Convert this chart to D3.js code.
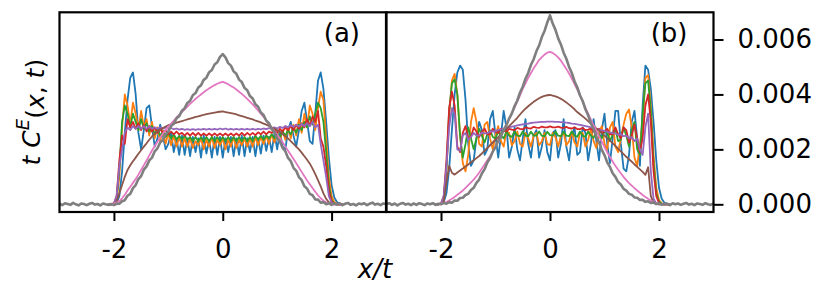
<!DOCTYPE html>
<html>
<head>
<meta charset="utf-8">
<script src="https://cdn.jsdelivr.net/npm/d3@7"></script>
<style>
  body { margin: 0; background: #fff; }
  svg { display: block; font-family: 'DejaVu Sans', sans-serif; }
</style>
</head>
<body>
<div class="chart"></div>
<script>
// all curve values are in units of 1e-4
const UNIT = 1e-4;

const xMid = [
  -2.10,-2.05,-2.00,-1.95,-1.90,-1.85,-1.80,-1.75,-1.70,-1.65,
  -1.60,-1.55,-1.50,-1.45,-1.40,-1.35,-1.30,-1.25,-1.20,-1.15,
  -1.10,-1.05,-1.00,-0.95,-0.90,-0.85,-0.80,-0.75,-0.70,-0.65,
  -0.60,-0.55,-0.50,-0.45,-0.40,-0.35,-0.30,-0.25,-0.20,-0.15,
  -0.10,-0.05,0.00,0.05,0.10,0.15,0.20,0.25,0.30,0.35,
  0.40,0.45,0.50,0.55,0.60,0.65,0.70,0.75,0.80,0.85,
  0.90,0.95,1.00,1.05,1.10,1.15,1.20,1.25,1.30,1.35,
  1.40,1.45,1.50,1.55,1.60,1.65,1.70,1.75,1.80,1.85,
  1.90,1.95,2.00,2.05,2.10,2.15,2.20
];

const xFull = [
  -3.00,-2.95,-2.90,-2.85,-2.80,-2.75,-2.70,-2.65,-2.60,-2.55,
  -2.50,-2.45,-2.40,-2.35,-2.30,-2.25,-2.20,-2.15,-2.10,-2.05,
  -2.00,-1.95,-1.90,-1.85,-1.80,-1.75,-1.70,-1.65,-1.60,-1.55,
  -1.50,-1.45,-1.40,-1.35,-1.30,-1.25,-1.20,-1.15,-1.10,-1.05,
  -1.00,-0.95,-0.90,-0.85,-0.80,-0.75,-0.70,-0.65,-0.60,-0.55,
  -0.50,-0.45,-0.40,-0.35,-0.30,-0.25,-0.20,-0.15,-0.10,-0.05,
  0.00,0.05,0.10,0.15,0.20,0.25,0.30,0.35,0.40,0.45,
  0.50,0.55,0.60,0.65,0.70,0.75,0.80,0.85,0.90,0.95,
  1.00,1.05,1.10,1.15,1.20,1.25,1.30,1.35,1.40,1.45,
  1.50,1.55,1.60,1.65,1.70,1.75,1.80,1.85,1.90,1.95,
  2.00,2.05,2.10,2.15,2.20,2.25,2.30,2.35,2.40,2.45,
  2.50,2.55,2.60,2.65,2.70,2.75,2.80,2.85,2.90,2.95,
  3.00
];

// ---- panel (a) ----
const blueA = [
  0, 0, 0.2, 0.5, 3, 12, 26, 38, 46, 48,
  40, 26, 20, 27, 35, 36, 28, 21, 24, 29,
  25, 20, 22, 26, 19, 24, 18, 25, 18, 24,
  17.5, 24.5, 19, 24, 17, 25, 18.5, 23.5, 17, 24.5,
  18, 24.5, 17, 24, 19, 24.5, 17.5, 24, 18, 25,
  17.5, 24, 19, 24.5, 17.5, 24, 18.5, 25, 19.5, 24.5,
  19, 26, 20, 26.5, 21, 20, 27, 30, 25, 21,
  27, 34, 37, 30, 23, 22, 33, 45, 48, 42,
  30, 17, 7, 2.5, 0.8, 0.2, 0
];
const orangeA = [
  0, 0, 0.3, 1.5, 10, 28, 40, 36, 29, 37,
  33, 27, 34, 28, 31, 25, 30, 24, 28, 23,
  27, 22, 26, 21.5, 25, 21, 24.5, 21, 24, 21,
  24, 20.5, 23, 21.5, 24, 20, 23.5, 21, 24.5, 20.5,
  23.5, 21.5, 24, 20, 23.5, 21, 24.5, 20.5, 23.5, 21.5,
  24, 21, 24, 21, 24.5, 21.5, 24.5, 22, 25, 22,
  25.5, 22.5, 26, 23, 27, 23.5, 28, 24, 29, 25,
  31, 26, 33, 28, 36, 33, 27, 35, 41, 38,
  24, 10, 3, 0.8, 0.2, 0, 0
];
const greenA = [
  0, 0, 0.3, 2, 13, 30, 36, 33, 28, 33,
  30, 27, 31, 27.5, 29.5, 26.5, 28.5, 25.5, 27.5, 25,
  26.5, 24.5, 26, 24, 25.5, 23.5, 25, 23.5, 25, 23.5,
  24.5, 23, 24.5, 23, 24.5, 23, 24.5, 23, 24.5, 23,
  24.5, 23, 24.5, 23, 24.5, 23, 24.5, 23, 24.5, 23,
  24.5, 23, 24.5, 23, 25, 23.5, 25, 23.5, 25, 24,
  25.5, 24, 26, 24.5, 26.5, 25, 27, 25.5, 28, 26,
  29, 27, 30, 28, 32, 29, 33, 37, 35, 30,
  19, 7, 1.5, 0.3, 0, 0, 0
];
const redA = [
  0, 0, 0.3, 3, 16, 25, 22, 31, 28, 30,
  27.5, 29.5, 27, 29, 26.5, 28.5, 26.5, 28, 26, 27.5,
  26, 27, 25.5, 26.5, 25.5, 26.5, 25.5, 26, 25, 26,
  25, 26, 25, 26, 25, 25.8, 25, 25.8, 25, 25.8,
  25, 25.8, 25, 25.8, 25, 25.8, 25, 25.8, 25, 26,
  25, 26, 25.2, 26, 25.2, 26.2, 25.5, 26.5, 25.5, 26.5,
  26, 27, 26, 27.5, 26.5, 28, 27, 28.5, 27, 29,
  27.5, 29.5, 28, 31, 28.5, 32, 30, 34, 24, 21,
  14, 5, 1, 0.2, 0, 0, 0
];
const purpleA = [
  0, 0, 0.3, 3, 14, 20, 26, 28, 27, 28.5,
  27.5, 28.5, 27.5, 28.5, 27.5, 28.5, 27.5, 28, 27.5, 28,
  27.5, 28, 27.5, 27.8, 27.3, 27.6, 27.2, 27.5, 27.1, 27.4,
  27.1, 27.4, 27.1, 27.4, 27.2, 27.5, 27.2, 27.5, 27.2, 27.5,
  27.2, 27.6, 27.3, 27.6, 27.2, 27.5, 27.2, 27.5, 27.2, 27.5,
  27.2, 27.5, 27.2, 27.5, 27.2, 27.5, 27.3, 27.6, 27.4, 27.7,
  27.5, 28, 27.6, 28.2, 27.8, 28.5, 28, 28.8, 28.2, 29,
  28.3, 29.3, 28.5, 29.5, 28.5, 30, 28, 29, 22, 16,
  10, 3, 0.6, 0.1, 0, 0, 0
];
const brownA = [
  0, 0, 0.2, 1, 4, 7, 10, 12.5, 14.2, 15.7,
  17, 18.4, 19.7, 21, 22.2, 23.5, 24.7, 25.8, 26.5, 27.2,
  27.8, 28.3, 28.8, 29.1, 29.4, 29.7, 30, 30.3, 30.6, 30.9,
  31.2, 31.5, 31.8, 32, 32.3, 32.6, 32.8, 33, 33.2, 33.4,
  33.6, 33.7, 33.8, 33.6, 33.4, 33.2, 33, 32.7, 32.4, 32.1,
  31.8, 31.5, 31.2, 30.9, 30.5, 30.2, 29.8, 29.4, 29, 28.5,
  28, 27.5, 27, 26.3, 25.6, 24.8, 24, 23, 22, 21,
  20, 18.8, 17.5, 16.2, 14.8, 13, 11, 8.8, 6.5, 4,
  2, 0.7, 0.2, 0, 0, 0, 0
];
const pinkA = [
  0, 0.1, 0.3, 0.6, 1.2, 2.2, 3.5, 5, 6.4, 7.8,
  9.2, 10.8, 12.5, 14.2, 16, 17.8, 19.6, 21.2, 22.8, 24.3,
  25.8, 27, 28.2, 29.4, 30.5, 31.6, 32.6, 33.6, 34.6, 35.6,
  36.6, 37.5, 38.4, 39.2, 40, 40.8, 41.5, 42.2, 42.8, 43.4,
  43.9, 44.3, 44.6, 44.2, 43.7, 43.1, 42.5, 41.8, 41, 40.2,
  39.3, 38.4, 37.4, 36.4, 35.3, 34.2, 33, 31.8, 30.5, 29.2,
  27.8, 26.6, 25.5, 24, 22.6, 21, 19.5, 18, 16.5, 15,
  13.4, 11.8, 10.2, 8.7, 7.3, 5.9, 4.6, 3.3, 2.2, 1.3,
  0.7, 0.3, 0.1, 0, 0, 0, 0
];
const grayA = [
  0.2, -0.3, 0.4, 0.1, -0.2, 0.5, 0, -0.4, 0.3, 0.1,
  -0.3, 0.2, 0.5, -0.1, 0.1, -0.4, 0.3, 0, -0.2, 0.1,
  -0.3, 0.2, 0.2, 1.1, 1.5, 3.1, 3.8, 5.9, 7, 9.2,
  10.3, 12.6, 13.8, 16, 17, 19.3, 20.4, 22.5, 23.4, 25.5,
  26.5, 28.5, 29.3, 31.3, 32.1, 34.1, 35, 36.9, 37.7, 39.7,
  40.5, 42.5, 43.3, 45.3, 46.1, 48.1, 48.9, 50.9, 51.7, 53.7,
  54.7, 53.5, 51.4, 50.5, 48.4, 47.5, 45.4, 44.5, 42.4, 41.5,
  39.4, 38.5, 36.4, 35.5, 33.4, 32.5, 30.4, 29.5, 27.4, 26.3,
  24, 22.9, 20.5, 19.3, 16.9, 15.7, 13.3, 12.2, 9.9, 8.8,
  6.6, 5.7, 3.8, 3.3, 1.8, 1.7, 0.6, 0.8, 0, 0.4,
  -0.2, 0.3, -0.1, 0.4, -0.3, 0.2, 0.5, -0.2, 0.1, -0.4,
  0.3, 0, 0.4, -0.3, 0.2, 0.6, -0.1, 0.2, -0.3, 0.3,
  0.1
];

// ---- panel (b) ----
const blueB = [
  0, 0, 0.2, 0.8, 4, 13, 27, 40, 48, 50.5,
  49, 38, 22, 14, 16, 24, 30, 27, 18, 20,
  31, 34, 25, 17, 25, 34, 28, 17, 21, 28,
  20, 16, 24, 31, 22, 17, 25, 27, 17, 21,
  27, 19, 16, 26, 27, 17, 22, 31, 21, 16,
  25, 28, 18, 19, 28, 26, 16, 22, 31, 23,
  16, 27, 33, 22, 15, 24, 34, 34, 22, 13,
  12, 18, 30, 34, 24, 14, 36, 50.5, 49, 42,
  30, 16, 6, 2, 0.6, 0.2, 0
];
const orangeB = [
  0, 0, 0.3, 2, 12, 32, 45, 47.5, 40, 25,
  15, 12, 18, 30, 35, 30, 22, 21, 29, 30,
  24, 20, 25, 28.5, 23, 21, 26.5, 26, 21.5, 23,
  26.5, 22, 21, 26, 24, 21, 25, 26, 21.5, 23,
  26, 22, 21.5, 26, 24.5, 21, 25, 26, 21.5, 23,
  26.5, 22.5, 21, 26, 26, 21, 23.5, 27.5, 23, 20.5,
  26, 28.5, 22, 20, 28, 30, 21, 19, 24, 29,
  33, 34.5, 28, 17, 14, 22, 30, 46, 47, 36,
  18, 6, 1.5, 0.4, 0, 0, 0
];
const greenB = [
  0, 0, 0.3, 2, 13, 34, 44, 45.5, 40, 25,
  17, 22, 28, 24, 20, 24, 27.5, 25, 22.5, 25.5,
  27, 24.5, 24, 26.5, 25, 24, 26.5, 25, 24.5, 26.5,
  25, 24.8, 26.5, 25, 24.8, 26.4, 25, 25, 26.5, 25,
  24.8, 26.4, 25.2, 25, 26.5, 25, 24.8, 26.4, 25, 24.8,
  26.5, 25, 24.6, 26.5, 25, 24.5, 26.5, 25, 24.2, 26.5,
  25.5, 24, 26.5, 26, 23, 25.5, 27.5, 23, 23.5, 28,
  25, 21, 27, 30, 20, 18, 33, 44, 45, 34,
  15, 4, 1, 0.2, 0, 0, 0
];
const redB = [
  0, 0, 0.3, 3, 16, 35, 41, 36, 21, 19,
  26, 28.5, 24, 24.5, 28, 26.5, 24.5, 26.5, 27.5, 25.5,
  25.5, 27.5, 26.5, 26, 27.5, 27, 26.5, 27.5, 27.2, 27,
  27.8, 27.5, 27.3, 28, 27.7, 27.6, 28.2, 27.9, 27.8, 28.3,
  28, 28, 28.4, 28, 28, 28.3, 27.9, 27.8, 28.2, 27.7,
  27.6, 28, 27.4, 27.4, 27.8, 27, 27.2, 27.6, 26.5, 27,
  27.5, 26, 26.5, 27.5, 25.5, 25.5, 28, 25.5, 24, 28,
  27, 22.5, 25, 29, 24, 19, 24, 36, 40, 30,
  12, 3, 0.5, 0, 0, 0, 0
];
const purpleB = [
  0, 0, 0.3, 3, 14, 28, 35, 33, 20, 19.5,
  25, 26, 23.5, 24.5, 26, 25, 25, 26.2, 25.8, 25.8,
  26.6, 26.5, 26.6, 27.1, 27.3, 27.5, 27.8, 28, 28.3, 28.5,
  28.7, 28.9, 29.1, 29.3, 29.4, 29.6, 29.7, 29.8, 29.9, 30,
  30, 30.1, 30.1, 30.1, 30, 30, 29.9, 29.8, 29.7, 29.6,
  29.4, 29.3, 29.1, 28.9, 28.7, 28.5, 28.3, 28, 27.8, 27.5,
  27.2, 27, 26.7, 26.4, 26.2, 25.9, 25.8, 25.3, 25.5, 24.8,
  25, 24, 24.5, 23, 24, 20, 18, 28, 33, 12,
  2, 0.3, 0, 0, 0, 0, 0
];
const brownB = [
  0, 0, 0.2, 0.8, 8, 14, 11.5, 10.8, 11.6, 12.3,
  13, 13.8, 14.5, 15.3, 16, 16.8, 17.6, 18.5, 19.5, 20.5,
  21.5, 22.5, 23.5, 24.5, 25.5, 26.5, 27.5, 28.5, 29.5, 30.5,
  31.5, 32.7, 33.8, 34.8, 35.7, 36.5, 37.3, 38, 38.6, 39.1,
  39.5, 39.7, 39.8, 39.6, 39.3, 38.9, 38.4, 37.8, 37.1, 36.3,
  35.5, 34.6, 33.6, 32.8, 32, 31.2, 30.3, 29.4, 28.5, 27.6,
  26.8, 25.9, 25, 24.1, 23.2, 22.3, 21.3, 20.3, 19.3, 18.3,
  17.3, 16.4, 15.5, 14.5, 13.6, 12.7, 11.8, 10.7, 13.5, 3,
  0.5, 0.1, 0, 0, 0, 0, 0
];
const pinkB = [
  0, 0.1, 0.3, 0.5, 0.8, 1.4, 2, 2.7, 3.5, 4.2,
  5, 6, 7, 8, 9, 10.2, 11.5, 13, 14.5, 16,
  17.5, 19.2, 21, 23, 25, 27, 29, 31, 33, 35.2,
  37.5, 39.7, 42, 44, 46, 47.8, 49.5, 51, 52.5, 53.6,
  54.5, 55.2, 55.5, 55.1, 54.4, 53.5, 52.3, 50.8, 49.3, 47.6,
  45.8, 43.8, 41.8, 39.6, 37.4, 35.1, 32.9, 30.8, 28.8, 26.8,
  24.8, 22.8, 20.8, 18.9, 17.2, 15.6, 14, 12.6, 11.3, 10,
  8.8, 7.7, 6.8, 5.9, 5, 4.2, 3.4, 2.7, 2, 1.4,
  0.8, 0.4, 0.2, 0.1, 0, 0, 0
];
const grayB = [
  0.1, 0.4, -0.2, 0.3, -0.4, 0.2, 0.5, -0.1, 0.2, -0.3,
  0.3, -0.2, 0.4, 0.1, -0.3, 0.3, 0, 0.4, -0.2, 0.2,
  0, 0.5, 0.2, 0.8, 0.6, 1.4, 1.3, 2.3, 2.4, 3.4,
  3.8, 5.2, 6, 7.8, 9, 11.2, 12.8, 15.2, 16.8, 19.2,
  20.8, 23.2, 24.8, 27.2, 28.8, 31.2, 33.1, 35.8, 37.8, 40.7,
  42.8, 45.7, 47.8, 50.7, 52.8, 55.7, 57.8, 60.9, 63.1, 66.2,
  68.8, 65.8, 63.5, 60.4, 58.2, 55.2, 53, 50, 47.8, 44.8,
  42.6, 39.7, 37.6, 34.6, 32.4, 29.5, 27.4, 24.6, 22.6, 19.8,
  17.9, 15.3, 13.6, 11.3, 10, 8.1, 7.2, 5.6, 5, 3.8,
  3.5, 2.5, 2.4, 1.6, 1.6, 0.9, 1.1, 0.5, 0.7, 0.1,
  0.4, -0.1, 0.3, 0.2, -0.3, 0.4, 0, 0.3, -0.2, 0.2,
  0.5, -0.1, 0.2, -0.3, 0.3, 0.1, -0.2, 0.4, 0, -0.2,
  0.3
];

const xTicks = [-2, 0, 2];
const yTicks = [0, 0.002, 0.004, 0.006];
const panelLabels = ['(a)', '(b)'];

const palette = ['#1f77b4', '#ff7f0e', '#2ca02c', '#d62728', '#9467bd', '#8c564b', '#e377c2', '#7f7f7f'];

const panels = [
  { label: panelLabels[0], series: [blueA, orangeA, greenA, redA, purpleA, brownA, pinkA], gray: grayA },
  { label: panelLabels[1], series: [blueB, orangeB, greenB, redB, purpleB, brownB, pinkB], gray: grayB }
];

const drawChart = () => {
  const width = 830,
    height = 294,
    top = 12.3,
    bottom = 212,
    panelX = [[59.5, 386], [386.5, 713.5]],
    svg = d3.select('.chart')
      .append('svg')
      .attr('width', width)
      .attr('height', height);

  svg.append('rect').attr('width', width).attr('height', height).attr('fill', '#fff');

  const y = d3.scaleLinear().domain([-0.00028, 0.00699]).range([bottom, top]);

  panels.forEach((p, pi) => {
    const x = d3.scaleLinear().domain([-3, 3]).range(panelX[pi]);
    const g = svg.append('g');

    g.append('clipPath')
      .attr('id', `clip${pi}`)
      .append('rect')
      .attr('x', panelX[pi][0])
      .attr('y', top)
      .attr('width', panelX[pi][1] - panelX[pi][0])
      .attr('height', bottom - top);

    const line = xs => d3.line()
      .x((d, i) => x(xs[i]))
      .y(d => y(d * UNIT));

    const plot = g.append('g').attr('clip-path', `url(#clip${pi})`);

    p.series.forEach((vals, si) => {
      plot.append('path')
        .datum(vals)
        .attr('fill', 'none')
        .attr('stroke', palette[si])
        .attr('stroke-width', 1.8)
        .attr('stroke-linejoin', 'round')
        .attr('d', line(xMid));
    });

    plot.append('path')
      .datum(p.gray)
      .attr('fill', 'none')
      .attr('stroke', palette[7])
      .attr('stroke-width', 2.6)
      .attr('stroke-linejoin', 'round')
      .attr('d', line(xFull));

    // x axis
    const ax = g.append('g')
      .attr('transform', `translate(0, ${bottom})`)
      .call(d3.axisBottom(x).tickValues(xTicks).tickSize(9).tickPadding(19).tickFormat(d => String(d)));
    ax.select('.domain').remove();
    ax.selectAll('line').attr('stroke', '#000').attr('stroke-width', 2);
    ax.selectAll('text')
      .attr('fill', '#000')
      .attr('font-size', 26)
      .attr('font-family', 'DejaVu Sans, sans-serif');

    // frame
    g.append('rect')
      .attr('x', panelX[pi][0])
      .attr('y', top)
      .attr('width', panelX[pi][1] - panelX[pi][0])
      .attr('height', bottom - top)
      .attr('fill', 'none')
      .attr('stroke', '#000')
      .attr('stroke-width', 2.2);

    g.append('text')
      .attr('x', panelX[pi][1] - 26)
      .attr('y', 41.5)
      .attr('text-anchor', 'end')
      .attr('font-size', 26)
      .text(p.label);
  });

  // shared y axis on the right of panel (b)
  const ay = svg.append('g')
    .attr('transform', `translate(${panelX[1][1]}, 0)`)
    .call(d3.axisRight(y).tickValues(yTicks).tickSize(10).tickPadding(14).tickFormat(d3.format('.3f')));
  ay.select('.domain').remove();
  ay.selectAll('line').attr('stroke', '#000').attr('stroke-width', 2);
  ay.selectAll('text')
    .attr('fill', '#000')
    .attr('font-size', 26)
    .attr('font-family', 'DejaVu Sans, sans-serif');

  // y label
  const yl = svg.append('text')
    .attr('transform', `translate(31, ${(top + bottom) / 2}) rotate(-90)`)
    .attr('text-anchor', 'middle')
    .attr('dominant-baseline', 'central')
    .attr('font-size', 25);
  yl.append('tspan').attr('font-style', 'italic').text('t ');
  yl.append('tspan').attr('font-style', 'italic').text('C');
  yl.append('tspan').attr('font-style', 'italic').attr('font-size', 18).attr('dy', '-0.5em').text('E');
  yl.append('tspan').attr('dy', '0.5em').text('(');
  yl.append('tspan').attr('font-style', 'italic').text('x');
  yl.append('tspan').text(', ');
  yl.append('tspan').attr('font-style', 'italic').text('t');
  yl.append('tspan').text(')');

  // x label
  svg.append('text')
    .attr('x', 375)
    .attr('y', 278)
    .attr('text-anchor', 'middle')
    .attr('font-size', 26)
    .attr('font-style', 'italic')
    .text('x/t');
};

drawChart();
</script>
</body>
</html>
